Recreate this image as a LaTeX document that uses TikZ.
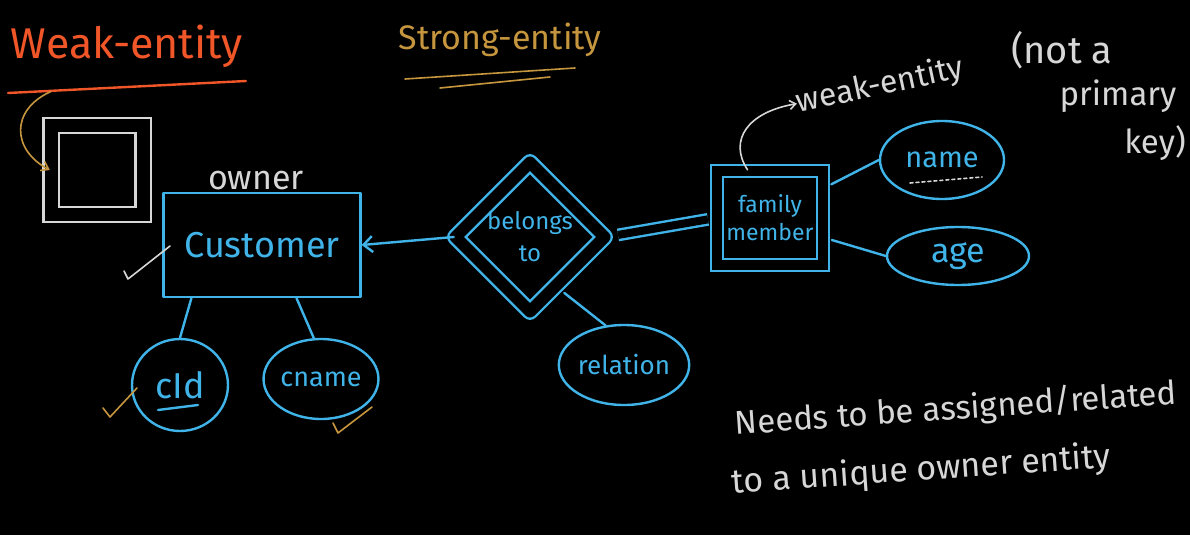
\documentclass[tikz,border=0pt]{standalone}
\usepackage{fontspec}
\setmainfont{Fira Sans}
\usepackage{tikz}
\usetikzlibrary{shapes.geometric, arrows.meta, calc}
\definecolor{boardblack}{RGB}{0, 0, 0}
\definecolor{chalkblue}{RGB}{64, 180, 232}
\definecolor{chalkwhite}{RGB}{215, 215, 215}
\definecolor{chalkred}{RGB}{240, 86, 40}
\definecolor{chalkgold}{RGB}{198, 150, 62}
\newcommand{\chalksize}[2]{\fontsize{#1}{#2}\selectfont}

\begin{document}
\begin{tikzpicture}[x=1pt, y=-1pt,
  chalk/.style={line width=2.4pt, line cap=round, line join=round},
  entitybox/.style={chalk, draw=chalkblue, rectangle, text=chalkblue, align=center, inner sep=0pt},
  weakbox/.style={entitybox, double=boardblack, double distance=10pt},
  relbox/.style={chalk, draw=chalkblue, diamond, aspect=1, double=boardblack, double distance=12pt, text=chalkblue, align=center, inner sep=0pt},
  attrib/.style={chalk, draw=chalkblue, ellipse, text=chalkblue, inner sep=0pt},
  link/.style={chalk, draw=chalkblue},
  note/.style={text=chalkwhite, inner sep=0pt}]
 % Board
 \fill[boardblack] (0,0) rectangle (1190,535);
 \useasboundingbox (0,0) rectangle (1190,535);

 % Headings
 \node[text=chalkred, inner sep=0pt, font=\chalksize{43}{48}] (weaktitle) at (127,46) {Weak-entity};
 \draw[chalk, chalkred] (8,93) -- (246,81);
 \node[text=chalkgold, inner sep=0pt, font=\chalksize{34}{40}] (strongtitle) at (500,40) {Strong-entity};
 \draw[chalk, chalkgold, line width=1.6pt] (405,79) -- (575,68);
 \draw[chalk, chalkgold, line width=1.6pt] (440,88) -- (550,77);

 % Legend symbol for a weak entity
 \node[chalk, draw=chalkwhite, rectangle, line join=miter, double=boardblack, double distance=13pt,
   minimum width=92, minimum height=89] (legendbox) at (97,170) {};
 \draw[chalk, chalkgold, line width=1.6pt, -{Straight Barb[length=7pt, width=10pt]}]
   (weaktitle.south west) ++(40,24) .. controls (10,110) and (12,150) .. (legendbox.west);

 % Owner entity
 \node[note, font=\chalksize{34}{40}] (ownerlabel) at (256,181) {owner};
 \node[entitybox, minimum width=197, minimum height=104, font=\chalksize{36}{42}] (cust) at (262,245) {Customer};
 \draw[chalk, chalkwhite, line width=1.6pt] (124,271) -- (128,279) -- (170,246);

 % Identifying relationship
 \node[relbox, minimum width=150, minimum height=150, font=\chalksize{24}{32}] (rel) at (530,237) {belongs\\to};
 \draw[link, -{Straight Barb[length=9pt, width=16pt]}] (rel.west) -- (cust.east);

 % Weak entity
 \node[weakbox, line join=miter, minimum width=106, minimum height=94, font=\chalksize{23}{28}] (fam) at (770,218) {family\\member};
 \draw[link, line cap=butt, double=boardblack, double distance=8pt, shorten <=12pt, shorten >=8pt] (rel.east) -- (fam.west);

 % Attributes of the owner
 \node[attrib, minimum width=96, minimum height=92, font=\chalksize{36}{40}] (cid) at (180,385) {cId};
 \draw[chalk, chalkblue] ($(cid.center)+(-22,25)$) -- ($(cid.center)+(18,20)$);
 \node[attrib, minimum width=94, minimum height=80, font=\chalksize{27}{32}] (cname) at (321,379) {cname};
 \draw[link] (cust.-143) -- (cid.north);
 \draw[link] (cust.-57) -- (cname.100);
 \draw[chalk, chalkgold, line width=1.6pt] (103,408) -- (110,417) -- (137,388);
 \draw[chalk, chalkgold, line width=1.6pt] (333,423) -- (338,433) -- (372,407);

 % Attribute of the relationship
 \node[attrib, minimum width=112, minimum height=80, font=\chalksize{26}{30}] (relattr) at (624,365) {relation};
 \draw[link, shorten <=10pt] (rel.-62) -- (relattr.115);

 % Attributes of the weak entity
 \node[attrib, minimum width=124, minimum height=78, font=\chalksize{29}{34}] (nameattr) at (942,160) {name};
 \draw[chalk, chalkwhite, line width=1.6pt, dashed] ($(nameattr.center)+(-32,23)$) -- ($(nameattr.center)+(40,17)$);
 \node[attrib, minimum width=142, minimum height=58, font=\chalksize{34}{38}] (ageattr) at (958,256) {age};
 \draw[link, shorten <=8pt] (fam.29) -- (nameattr.west);
 \draw[link, shorten <=8pt] (fam.-20) -- (ageattr.west);

 % Notes
 \node[note, rotate=12, font=\chalksize{32}{36}] (wklabel) at (880,86) {weak-entity};
 \node[note, font=\chalksize{38}{42}] (notlabel) at (1062,50) {(not a};
 \node[note, font=\chalksize{33}{36}] (primlabel) at (1118,96) {primary};
 \node[note, font=\chalksize{33}{36}] (keylabel) at (1155,143) {key)};
 \draw[chalk, chalkwhite, line width=1.6pt, -{Straight Barb[length=6pt, width=9pt]}]
   (fam.115) .. controls (728,140) and (748,112) .. (wklabel.west);
 \node[note, rotate=4, anchor=west, font=\chalksize{33}{38}] (needlabel) at (735,425) {Needs to be assigned/related};
 \node[note, rotate=4, anchor=west, font=\chalksize{34}{38}] (uniquelabel) at (732,484) {to a unique owner entity};
\end{tikzpicture}
\end{document}
